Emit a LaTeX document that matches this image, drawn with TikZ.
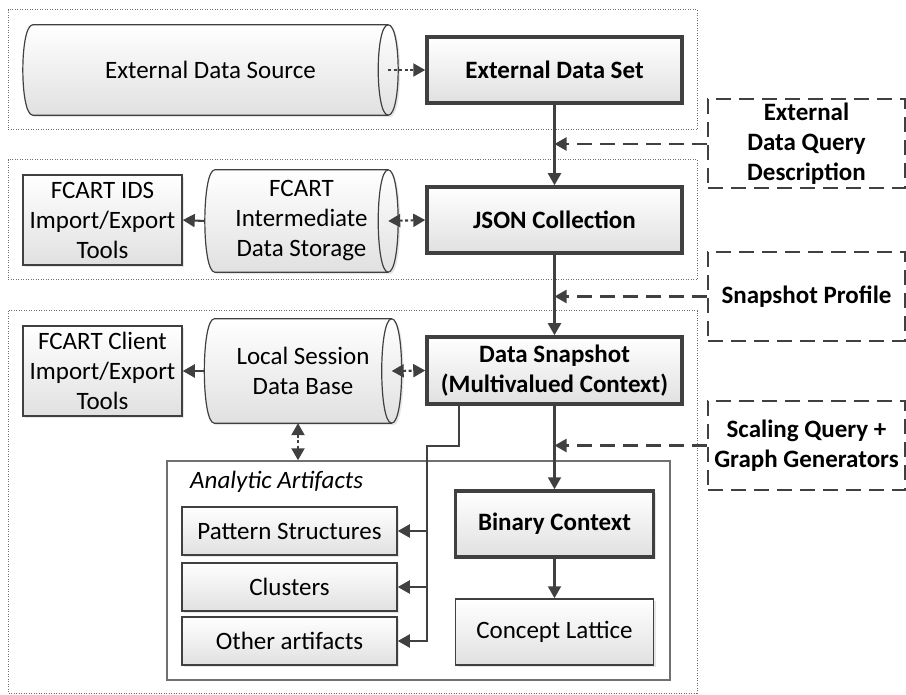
\documentclass[tikz,border=0pt]{standalone}
\usepackage{fontspec}
\setmainfont{Carlito}
\usepackage{tikz}
\usetikzlibrary{arrows.meta,shadows,backgrounds}
\definecolor{ln}{HTML}{404040}
\definecolor{pan}{HTML}{707070}

% drum outline round a named node
\newcommand{\drum}[1]{%
  \draw[draw=ln, line width=1.2pt, grad] ([xshift=10pt]#1.north west) -- ([xshift=-10pt]#1.north east)
    .. controls ([xshift=3.3pt]#1.north east) and ([xshift=3.3pt]#1.south east) .. ([xshift=-10pt]#1.south east)
    -- ([xshift=10pt]#1.south west)
    .. controls ([xshift=-3.3pt]#1.south west) and ([xshift=-3.3pt]#1.north west) .. cycle;
  \draw[draw=ln, line width=1.2pt] ([xshift=-10pt]#1.north east)
    .. controls ([xshift=-23.3pt]#1.north east) and ([xshift=-23.3pt]#1.south east) .. ([xshift=-10pt]#1.south east);
}

\begin{document}
\begin{tikzpicture}[x=1pt,y=-1pt,
  every node/.style={font=\fontsize{25}{30}\selectfont, align=center, inner sep=2pt},
  grad/.style={top color=white, bottom color=black!12, drop shadow={shadow xshift=2pt, shadow yshift=-2pt, opacity=0.2}},
  box/.style={rectangle, draw=ln, line width=1.5pt, grad},
  mainbox/.style={box, line width=3.5pt, font=\fontsize{25}{30}\selectfont\bfseries},
  qbox/.style={rectangle, draw=ln, line width=2pt, dash pattern=on 15pt off 8pt, fill=white, minimum width=197pt, minimum height=89pt, font=\fontsize{25}{30}\selectfont\bfseries},
  store/.style={rectangle},
  panel/.style={draw=pan, line width=1pt, dash pattern=on 1pt off 1.5pt},
  arr/.style={draw=ln, line width=2.1pt, -{Triangle[length=12pt,width=13pt]}},
  darr/.style={draw=ln, line width=2.1pt, dash pattern=on 3pt off 2.5pt, {Triangle[length=12pt,width=13pt]}-{Triangle[length=12pt,width=13pt]}},
  qarr/.style={draw=ln, line width=2.1pt, dash pattern=on 15pt off 8pt, -{Triangle[length=12pt,width=13pt]}}]
  \useasboundingbox (0,0) rectangle (906,695);

  % panels
  \draw[panel] (8,10) rectangle (697,130);
  \draw[panel] (8,160) rectangle (697,280);
  \draw[panel] (8,311) rectangle (697,693);

  % external data
  \node[store, minimum width=375pt, minimum height=90pt] (src) at (210.5,70) {External Data Source};
  \node[mainbox, minimum width=255pt, minimum height=66pt] (eds) at (554.5,70) {External Data Set};
  \draw[arr, dash pattern=on 3pt off 2.5pt] ([xshift=-10pt]src.east) -- (eds.west);

  % intermediate storage
  \node[box, minimum width=159pt, minimum height=90pt] (idstools) at (102.5,220) {FCART IDS\\Import/Export\\Tools};
  \node[store, minimum width=193pt, minimum height=102pt] (ids) at (301.5,221) {FCART\\Intermediate\\Data Storage};
  \node[mainbox, minimum width=255pt, minimum height=66pt] (json) at (554.5,220) {JSON Collection};
  \draw[arr] (ids.west) -- (idstools.east);
  \draw[darr] ([xshift=-10pt]ids.east) -- (json.west);

  % client side
  \node[box, minimum width=159pt, minimum height=90pt] (clitools) at (102.5,371) {FCART Client\\Import/Export\\Tools};
  \node[store, minimum width=197pt, minimum height=104pt] (session) at (303,371) {Local Session\\Data Base};
  \node[mainbox, minimum width=255pt, minimum height=67pt] (snap) at (554.5,370.5) {Data Snapshot\\(Multivalued Context)};
  \draw[arr] (session.west) -- (clitools.east);
  \draw[darr] ([xshift=-10pt]session.east) -- (snap.west);

  \begin{pgfonlayer}{background}
    \drum{src}
    \drum{ids}
    \drum{session}
  \end{pgfonlayer}

  % analytic artifacts
  \node[rectangle, draw=pan, line width=1.5pt, minimum width=503pt, minimum height=219pt] (art) at (418.5,570.5) {};
  \node[anchor=west, font=\fontsize{25}{30}\selectfont\itshape] (artlabel) at (188,482) {Analytic Artifacts};
  \node[box, minimum width=215pt, minimum height=48pt] (pattern) at (289.5,531) {Pattern Structures};
  \node[box, minimum width=215pt, minimum height=48pt] (clusters) at (289.5,587) {Clusters};
  \node[box, minimum width=215pt, minimum height=48pt] (other) at (289.5,641) {Other artifacts};
  \node[mainbox, minimum width=198pt, minimum height=66pt] (bin) at (554.5,524) {Binary Context};
  \node[box, minimum width=198pt, minimum height=66pt] (lattice) at (554.5,632) {Concept Lattice};
  \coordinate (artin) at ([xshift=-5pt]session.south |- art.north);
  \draw[darr] ([xshift=-5pt]session.south) -- (artin);

  % queries
  \node[qbox] (query) at (806.5,144) {External\\Data Query\\Description};
  \node[qbox] (profile) at (806.5,296.5) {Snapshot Profile};
  \node[qbox] (scaling) at (806.5,445.5) {Scaling Query +\\Graph Generators};

  \draw[arr] (eds.south) -- (json.north);
  \draw[arr] (json.south) -- (snap.north);
  \draw[arr] (snap.south) -- (bin.north);
  \draw[arr] (bin.south) -- (lattice.north);
  \coordinate (q1) at (eds.south |- query.west);
  \coordinate (q2) at (json.south |- profile.west);
  \coordinate (q3) at (snap.south |- scaling.west);
  \draw[qarr] (query.west) -- (q1);
  \draw[qarr] (profile.west) -- (q2);
  \draw[qarr] (scaling.west) -- (q3);

  % snapshot to artifacts
  \coordinate (tap) at (459,404);
  \coordinate (bend) at (459,446);
  \coordinate (bus) at (427,446);
  \draw[arr] (tap) -- (bend) -- (bus) |- (other.east);
  \draw[arr] (bus |- pattern.east) -- (pattern.east);
  \draw[arr] (bus |- clusters.east) -- (clusters.east);
\end{tikzpicture}
\end{document}
